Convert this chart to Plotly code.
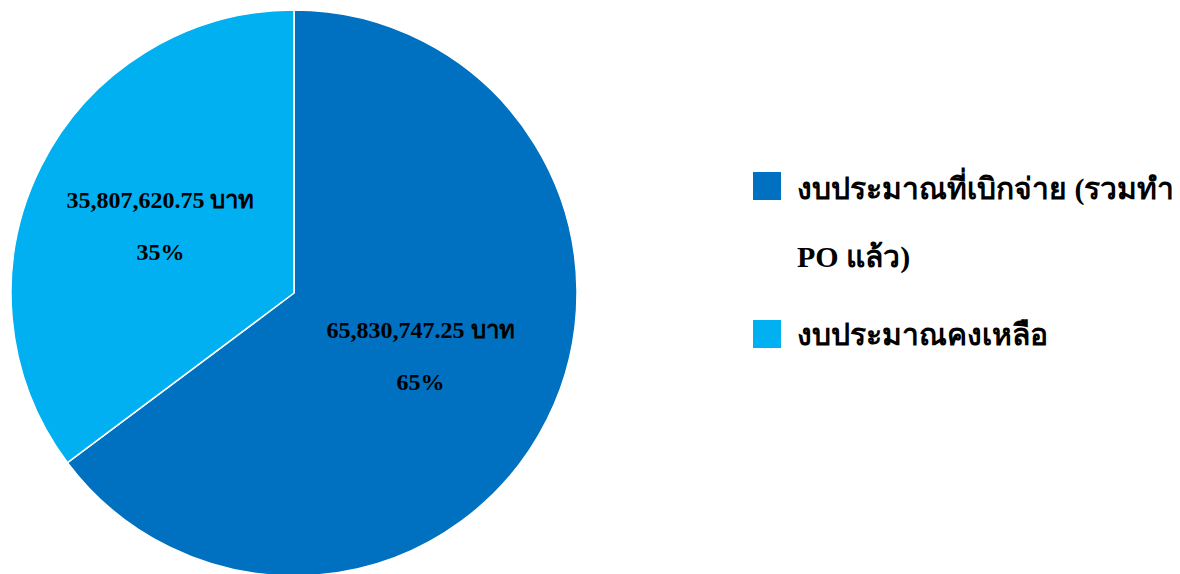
import plotly.graph_objects as go

labels = ["งบประมาณที่เบิกจ่าย (รวมทำ PO แล้ว)", "งบประมาณคงเหลือ"]
values = [65830747.25, 35807620.75]
colors = ["#0070C0", "#00B0F0"]

OFF = 8  # default html body margin
W, H = 1172, 574
FONT = "Liberation Serif, Times New Roman, serif"


def px(x):
    return (x - OFF) / W


def py(y):
    return 1 - (y - OFF) / H


fig = go.Figure()
fig.add_trace(go.Pie(
    labels=labels,
    values=values,
    sort=False,
    direction="clockwise",
    rotation=0,
    marker=dict(colors=colors, line=dict(color="white", width=1.5)),
    texttemplate=("<span style='font-size:24px'><b>%{value:,.2f} บาท</b></span>"
                  "<br><br><span style='font-size:24px'><b>%{percent:.0%}</b></span>"),
    textposition="inside",
    insidetextorientation="horizontal",
    textfont=dict(family=FONT, size=20, color="black"),
    hoverinfo="label+value+percent",
    showlegend=False,
    domain=dict(x=[px(11), px(577)], y=[py(578), 1]),
))

# manual legend (large square swatches like the reference)
leg_x = 753
leg_size = 28
leg_rows = [(186, 220), (334, 334)]  # (swatch center y, text middle y), screen px
for lab, col, (sy, ty) in zip(labels, colors, leg_rows):
    fig.add_shape(type="rect", xref="paper", yref="paper",
                  x0=px(leg_x), x1=px(leg_x + leg_size),
                  y0=py(sy + leg_size / 2), y1=py(sy - leg_size / 2),
                  fillcolor=col, line=dict(width=0))
    txt = lab.replace(" PO", "<br><br>PO")
    fig.add_annotation(xref="paper", yref="paper", x=px(795), y=py(ty),
                       xanchor="left", yanchor="middle", align="left",
                       text="<span style='font-size:30px'><b>" + txt + "</b></span>",
                       showarrow=False,
                       font=dict(family=FONT, size=26, color="black"))

fig.update_layout(
    width=W, height=H,
    margin=dict(l=0, r=0, t=0, b=0),
    paper_bgcolor="white",
    plot_bgcolor="white",
)

fig.write_html("out.html")
